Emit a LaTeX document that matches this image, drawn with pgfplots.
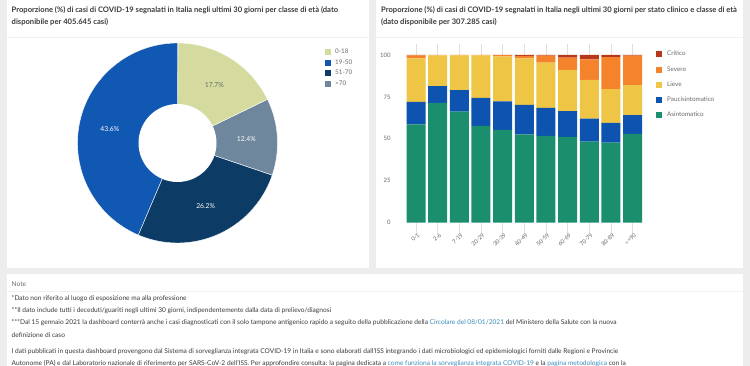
\documentclass[border=0pt]{standalone}
\usepackage{pgfplots}
\pgfplotsset{compat=1.18}
\usepackage{pgfplotstable}
\usepackage{fontspec}
\setmainfont{Lato}
\definecolor{bg}{HTML}{EDEDED}
\definecolor{txt}{HTML}{3A3A3A}
\definecolor{tick}{HTML}{6A6A6A}
\definecolor{link}{HTML}{3C8DBC}
\definecolor{cA}{HTML}{D5DB9E}
\definecolor{cB}{HTML}{1158B3}
\definecolor{cC}{HTML}{0C3B65}
\definecolor{cD}{HTML}{6E879C}
\definecolor{crit}{HTML}{B8381C}
\definecolor{sev}{HTML}{F4832C}
\definecolor{lie}{HTML}{EEC544}
\definecolor{pau}{HTML}{0E53B0}
\definecolor{asi}{HTML}{1B8F6D}

\pgfplotsset{sqlegend/.style={legend image code/.code={\fill[#1, draw=none] (0pt,-3pt) rectangle (6pt,3pt);}}}

% stacked bar data: share (%) by clinical state, per age class
\pgfplotstableread{
x asi pau lie sev cri
0 58.7 13.3 26.0 1.7 0.3
1 71.4 10.1 18.2 0.3 0.0
2 66.2 12.9 20.7 0.2 0.0
3 57.7 16.7 25.3 0.3 0.0
4 55.3 17.1 26.8 0.7 0.1
5 52.7 17.5 27.8 1.5 0.5
6 51.7 16.7 27.0 4.2 0.4
7 51.1 15.5 24.5 7.3 1.6
8 48.3 13.7 23.1 12.3 2.6
9 47.7 11.8 20.2 19.1 1.2
10 52.9 11.3 17.9 17.5 0.4
}\clinico

% pie data (%)
\def\vA{17.7}% 0-18
\def\vB{43.6}% 19-50
\def\vC{26.2}% 51-70
\def\vD{12.4}% >70

\begin{document}
\begin{tikzpicture}[x=1pt,y=1pt]
\useasboundingbox (0,0) rectangle (750,366);
\clip (0,0) rectangle (750,366);
\fill[bg] (0,0) rectangle (750,366);
\fill[white] (7,98) rectangle (369,366);
\fill[white] (376,98) rectangle (743,366);
\fill[white] (7,-5) rectangle (743,92);
\draw[gray!12, line width=0.6pt] (7,329) -- (369,329);
\draw[gray!12, line width=0.6pt] (376,329) -- (743,329);
\draw[gray!12, line width=0.6pt] (7,75) -- (743,75);

% titles
\begin{scope}[every node/.style={anchor=west, inner sep=0pt, text=txt, font=\fontsize{7.6}{8}\selectfont\bfseries}]
\node at (11.5,356) {Proporzione (\%) di casi di COVID-19 segnalati in Italia negli ultimi 30 giorni per classe di età (dato};
\node at (11.5,344) {disponibile per 405.645 casi)};
\node at (381,356) {Proporzione (\%) di casi di COVID-19 segnalati in Italia negli ultimi 30 giorni per stato clinico e classe di età};
\node at (381,344) {(dato disponibile per 307.285 casi)};
\end{scope}

% ---------- pie ----------
\pgfmathsetmacro{\aB}{90+3.6*\vB}
\pgfmathsetmacro{\aC}{\aB+3.6*\vC}
\pgfmathsetmacro{\aD}{\aC+3.6*\vD}
\pgfmathsetmacro{\aA}{\aD+3.6*\vA}
\begin{axis}[at={(177.5pt,223pt)}, anchor=center, width=200pt, height=200pt,
  scale only axis, hide axis, xmin=-1, xmax=1, ymin=-1, ymax=1, clip=false,
  legend style={at={(1.2375,0.975)}, anchor=north west, draw=none, fill=none,
    font=\fontsize{6.3}{7}\selectfont, text=tick, inner sep=0pt, row sep=2.4pt,
    nodes={inner sep=1pt}},
  legend cell align=left, sqlegend]
\addlegendimage{fill=cA}\addlegendentry{\hspace{3pt}0-18}
\addlegendimage{fill=cB}\addlegendentry{\hspace{3pt}19-50}
\addlegendimage{fill=cC}\addlegendentry{\hspace{3pt}51-70}
\addlegendimage{fill=cD}\addlegendentry{\hspace{3pt}>70}
\addplot[fill=cB, draw=white, line width=0.4pt, domain=90:\aB, samples=80, variable=\t, forget plot]
  ({cos(t)},{sin(t)}) -- (axis cs:0,0) -- cycle;
\addplot[fill=cC, draw=white, line width=0.4pt, domain=\aB:\aC, samples=60, variable=\t, forget plot]
  ({cos(t)},{sin(t)}) -- (axis cs:0,0) -- cycle;
\addplot[fill=cD, draw=white, line width=0.4pt, domain=\aC:\aD, samples=40, variable=\t, forget plot]
  ({cos(t)},{sin(t)}) -- (axis cs:0,0) -- cycle;
\addplot[fill=cA, draw=white, line width=0.4pt, domain=\aD:\aA, samples=40, variable=\t, forget plot]
  ({cos(t)},{sin(t)}) -- (axis cs:0,0) -- cycle;
\pgfmathsetmacro{\mB}{(90+\aB)/2}
\pgfmathsetmacro{\mC}{(\aB+\aC)/2}
\pgfmathsetmacro{\mD}{(\aC+\aD)/2}
\pgfmathsetmacro{\mA}{(\aD+\aA)/2}
\begin{scope}[every node/.style={font=\fontsize{6.8}{8}\selectfont}]
\node[text=white] at (axis cs:{0.69*cos(\mB)},{0.69*sin(\mB)}) {\vB\%};
\node[text=white] at (axis cs:{0.69*cos(\mC)},{0.69*sin(\mC)}) {\vC\%};
\node[text=white] at (axis cs:{0.69*cos(\mD)},{0.69*sin(\mD)}) {\vD\%};
\node[text=tick] at (axis cs:{0.69*cos(\mA)},{0.69*sin(\mA)}) {\vA\%};
\end{scope}
\end{axis}
\fill[white] (177.5,223) circle (39);

% ---------- stacked bars ----------
\begin{axis}[at={(405.2pt,143.3pt)}, anchor=south west, width=238.2pt, height=167.7pt,
  scale only axis, ybar stacked, bar width=19pt,
  xmin=-0.5, xmax=10.5, ymin=0, ymax=100,
  xtick={0,...,10},
  xticklabels={0-1,2-6,7-19,20-29,30-39,40-49,50-59,60-69,70-79,80-89,>=90},
  ytick={0,25,50,75,100},
  axis line style={draw=none},
  xmajorgrids, grid style={gray!12, line width=0.4pt},
  major tick length=11pt, tick align=outside,
  xtick style={gray!25, line width=0.4pt},
  ytick style={draw=none},
  x tick label style={font=\fontsize{5.8}{7}\selectfont, text=tick, xshift=3pt, yshift=0pt, rotate=45, anchor=east, inner sep=0.5pt},
  y tick label style={font=\fontsize{6}{7}\selectfont, text=tick},
  /pgf/number format/assume math mode=true,
  reverse legend,
  legend style={at={(1.053,1.03)}, anchor=north west, draw=none, fill=none,
    font=\fontsize{6.3}{7}\selectfont, text=tick, inner sep=0pt, row sep=7.2pt,
    nodes={inner sep=1pt}},
  legend cell align=left, sqlegend]
\addplot[fill=asi, draw=none] table[x=x, y=asi] {\clinico}; \addlegendentry{\hspace{4pt}Asintomatico}
\addplot[fill=pau, draw=none] table[x=x, y=pau] {\clinico}; \addlegendentry{\hspace{4pt}Paucisintomatico}
\addplot[fill=lie, draw=none] table[x=x, y=lie] {\clinico}; \addlegendentry{\hspace{4pt}Lieve}
\addplot[fill=sev, draw=none] table[x=x, y=sev] {\clinico}; \addlegendentry{\hspace{4pt}Severo}
\addplot[fill=crit, draw=none] table[x=x, y=cri] {\clinico}; \addlegendentry{\hspace{4pt}Critico}
\end{axis}

% ---------- notes ----------
\begin{scope}[every node/.style={anchor=west, inner sep=0pt, text=txt, font=\fontsize{6.6}{8}\selectfont}]
\node[text=tick] at (11.5,82) {Note};
\node at (11.5,67) {*Dato non riferito al luogo di esposizione ma alla professione};
\node at (11.5,55) {**Il dato include tutti i deceduti/guariti negli ultimi 30 giorni, indipendentemente dalla data di prelievo/diagnosi};
\node at (11.5,43) {***Dal 15 gennaio 2021 la dashboard conterrà anche i casi diagnosticati con il solo tampone antigenico rapido a seguito della pubblicazione della \textcolor{link}{Circolare del 08/01/2021} del Ministero della Salute con la nuova};
\node at (11.5,31) {definizione di caso};
\node at (11.5,14) {I dati pubblicati in questa dashboard provengono dal Sistema di sorveglianza integrata COVID-19 in Italia e sono elaborati dall'ISS integrando i dati microbiologici ed epidemiologici forniti dalle Regioni e Provincie};
\node at (11.5,2.5) {Autonome (PA) e dal Laboratorio nazionale di riferimento per SARS-CoV-2 dell'ISS. Per approfondire consulta: la pagina dedicata a \textcolor{link}{come funziona la sorveglianza integrata COVID-19} e la \textcolor{link}{pagina metodologica} con la};
\end{scope}
\end{tikzpicture}
\end{document}
